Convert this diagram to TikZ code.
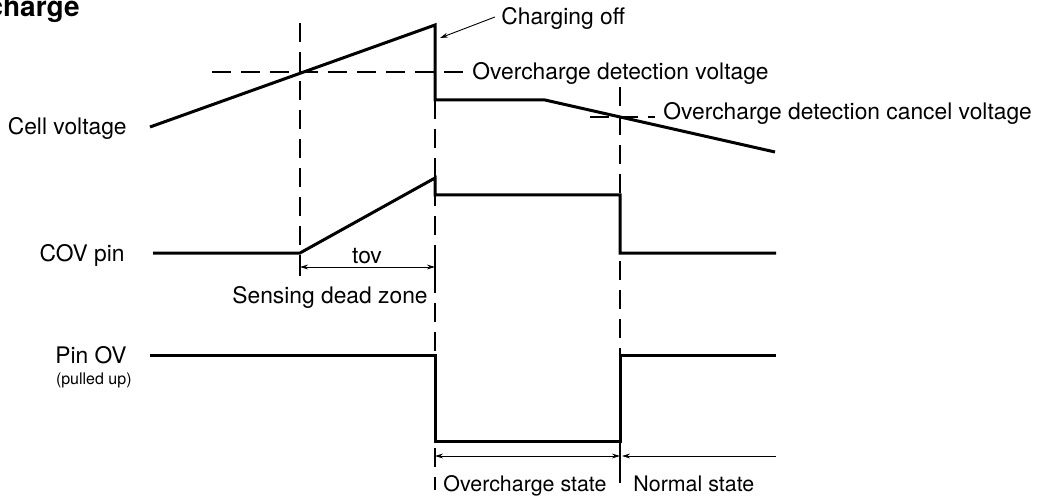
\documentclass[tikz,border=0pt]{standalone}
\usepackage{fontspec}
\setmainfont{TeX Gyre Heros}
\usetikzlibrary{arrows.meta, positioning, calc}

\begin{document}
\begin{tikzpicture}[
    x=0.5pt, y=-0.5pt,
    sig/.style={line width=1.5pt, line join=miter},
    guide/.style={line width=0.6pt, dash pattern=on 9.5pt off 5pt},
    tick/.style={line width=0.6pt},
    ptr/.style={line width=0.45pt, -{Stealth[length=4pt,width=2.4pt]}},
    dim/.style={line width=0.45pt, {Stealth[length=4pt,width=2.4pt]}-{Stealth[length=4pt,width=2.4pt]}},
    lbl/.style={font=\fontsize{11.4}{13}\selectfont, inner sep=0pt},
    state/.style={font=\fontsize{10.7}{13}\selectfont, inner sep=0pt},
    small/.style={font=\fontsize{8}{9}\selectfont, inner sep=0pt},
    ttl/.style={font=\fontsize{14}{16}\selectfont\bfseries, inner sep=0pt},
]
\useasboundingbox (0,0) rectangle (1042,502);

% ── Title ──
\node[ttl, anchor=base east] (title) at (80,17) {Overcharge};

% ── Time markers and threshold levels ──
\draw[guide] (300,23) -- (300,277);
\draw[guide] (435,100) -- (435,490);
\draw[guide] (620,87) -- (620,490);
\draw[guide] (212,72) -- (465,72);
\draw[guide] (590,117) -- (655,117);

% ── Waveforms ──
\draw[sig] (150,127) -- (435,25) -- (435,100) -- (545,100) -- (775,152);
\draw[sig] (153,253) -- (300,253) -- (435,178) -- (435,195) -- (620,195) -- (620,253) -- (776,253);
\draw[sig] (150,355) -- (435,355) -- (435,441) -- (620,441) -- (620,355) -- (776,355);

% ── Signal names ──
\node[lbl, anchor=base east] (cellv) at (127,135) {Cell voltage};
\node[lbl, anchor=base east] (covpin) at (125,261) {COV pin};
\node[lbl, anchor=base east] (pinov) at (127,363) {Pin OV};
\node[small, anchor=base east] (pullup) at (132,384) {(pulled up)};

% ── Level labels ──
\node[lbl, anchor=base west] (ovdet) at (472,80) {Overcharge detection voltage};
\node[lbl, anchor=base west] (ovcan) at (663,120) {Overcharge detection cancel voltage};
\node[lbl, anchor=base west] (choff) at (501,25) {Charging off};
\coordinate (cutoff) at (440,38);
\draw[ptr] ([xshift=-3pt,yshift=1pt]choff.west) -- (cutoff);

% ── Dead zone ──
\coordinate (dzA) at (300,267);
\coordinate (dzB) at (435,267);
\draw[tick] (300,258) -- (300,276);
\draw[tick] (435,258) -- (435,276);
\draw[dim] (dzA) -- (dzB);
\node[lbl, anchor=base] (tov) at (367,263) {tov};
\node[lbl, anchor=base east] (dead) at (428,303) {Sensing dead zone};

% ── States ──
\coordinate (ovA) at (435,456);
\coordinate (ovB) at (620,456);
\coordinate (nsEnd) at (776,456);
\draw[tick] (435,448) -- (435,465);
\draw[tick] (620,448) -- (620,465);
\draw[dim] (ovA) -- (ovB);
\draw[ptr] (nsEnd) -- ([xshift=1pt]ovB);
\node[state, anchor=base west] (ovst) at (443,491) {Overcharge state};
\node[state, anchor=base west] (nmst) at (633,491) {Normal state};

\end{tikzpicture}
\end{document}
